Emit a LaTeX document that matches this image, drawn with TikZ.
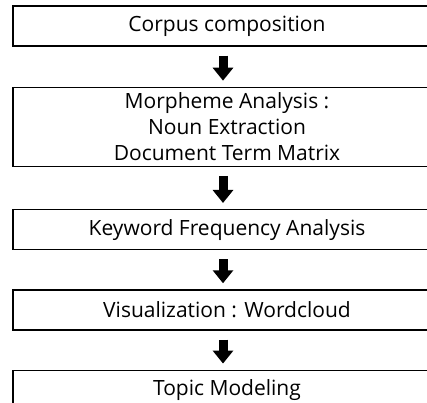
\documentclass[tikz,border=0pt]{standalone}
\usepackage{fontspec}
\setmainfont{Open Sans}
\usetikzlibrary{arrows.meta,positioning}
\tikzset{stage/.style={draw, line width=1.3pt, minimum width=428pt, minimum height=40pt,
    align=center, inner sep=0pt, font=\fontsize{21}{26}\selectfont},
  flow/.style={line width=9pt, -{Triangle[length=13pt, width=20pt]}, shorten <=9pt, shorten >=6pt}}

\begin{document}
\begin{tikzpicture}[x=1pt, y=1pt, node distance=40pt]
  \useasboundingbox (0,0) rectangle (427,-402);
  \clip (0,0) rectangle (427,-402);
  \node[stage] (corpus) at (227,-26) {Corpus composition};
  \node[stage, below=of corpus, minimum height=79pt] (morph) {Morpheme Analysis :\\Noun Extraction\\Document Term Matrix};
  \node[stage, below=42pt of morph] (freq) {Keyword Frequency Analysis};
  \node[stage, below=39pt of freq] (vis) {Visualization : Wordcloud};
  \node[stage, below=39pt of vis] (topic) {Topic Modeling};
  % block arrows between the stages
  \foreach \a/\b in {corpus/morph, morph/freq, freq/vis, vis/topic}
    \draw[flow] ([xshift=-4pt]\a.south) -- ([xshift=-4pt]\b.north);
\end{tikzpicture}
\end{document}
